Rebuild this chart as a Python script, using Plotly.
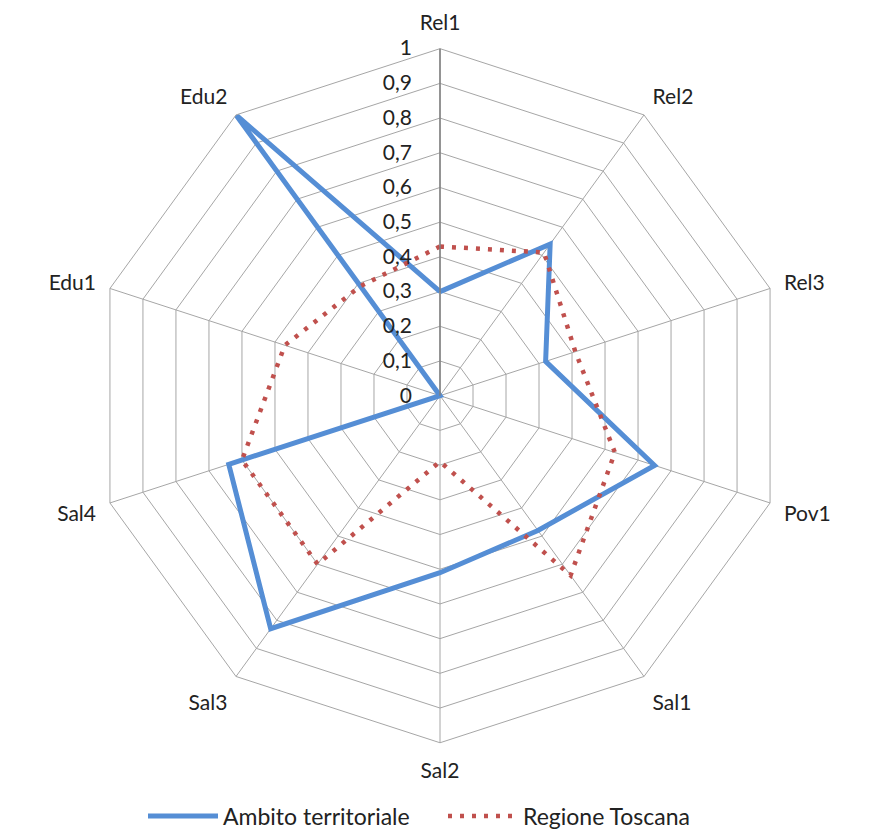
import plotly.graph_objects as go

categories = ["Rel1", "Rel2", "Rel3", "Pov1", "Sal1", "Sal2", "Sal3", "Sal4", "Edu1", "Edu2"]
ambito = [0.30, 0.54, 0.32, 0.65, 0.48, 0.51, 0.83, 0.64, 0.00, 1.00]
toscana = [0.43, 0.51, 0.41, 0.53, 0.64, 0.19, 0.60, 0.60, 0.47, 0.39]
radial_ticks = [0, 0.1, 0.2, 0.3, 0.4, 0.5, 0.6, 0.7, 0.8, 0.9, 1.0]

cats_closed = categories + categories[:1]

fig = go.Figure()
fig.add_trace(go.Scatterpolar(
    r=ambito + ambito[:1], theta=cats_closed, mode="lines",
    name="Ambito territoriale",
    line=dict(color="#558ED5", width=5),
))
fig.add_trace(go.Scatterpolar(
    r=toscana + toscana[:1], theta=cats_closed, mode="lines",
    name="Regione Toscana",
    line=dict(color="#C0504D", width=4.5, dash="4px,8px"),
))

W, H = 870, 830
cx, cy, R = 432, 391, 350
fig.update_layout(
    width=W, height=H,
    margin=dict(l=0, r=0, t=0, b=0),
    paper_bgcolor="white",
    separators=", ",
    font=dict(family="Lato, Noto Sans, sans-serif", size=20, color="#222"),
    showlegend=True,
    legend=dict(orientation="h", x=0.5, xanchor="center", y=1 - 815 / H, yanchor="middle",
                font=dict(size=23, color="#222"), itemwidth=70,
                entrywidth=215, entrywidthmode="pixels"),
    polar=dict(
        domain=dict(x=[(cx - R) / W, (cx + R) / W], y=[1 - (cy + R) / H, 1 - (cy - R) / H]),
        bgcolor="white",
        gridshape="linear",
        angularaxis=dict(
            rotation=90, direction="clockwise",
            categoryorder="array", categoryarray=categories,
            showline=True, linecolor="#A6A6A6", linewidth=1,
            gridcolor="#A6A6A6", gridwidth=1,
            ticks="outside", ticklen=10, tickcolor="rgba(0,0,0,0)",
            tickfont=dict(size=21, color="#222"),
        ),
        radialaxis=dict(
            range=[0, 1], tickvals=radial_ticks,
            angle=90, tickangle=90, side="counterclockwise",
            showline=True, linecolor="#7F7F7F", linewidth=1.5,
            gridcolor="#A6A6A6", gridwidth=1,
            ticks="outside", ticklen=20, tickcolor="rgba(0,0,0,0)",
            tickfont=dict(size=21, color="#222"),
        ),
    ),
)

fig.write_html("out.html")
